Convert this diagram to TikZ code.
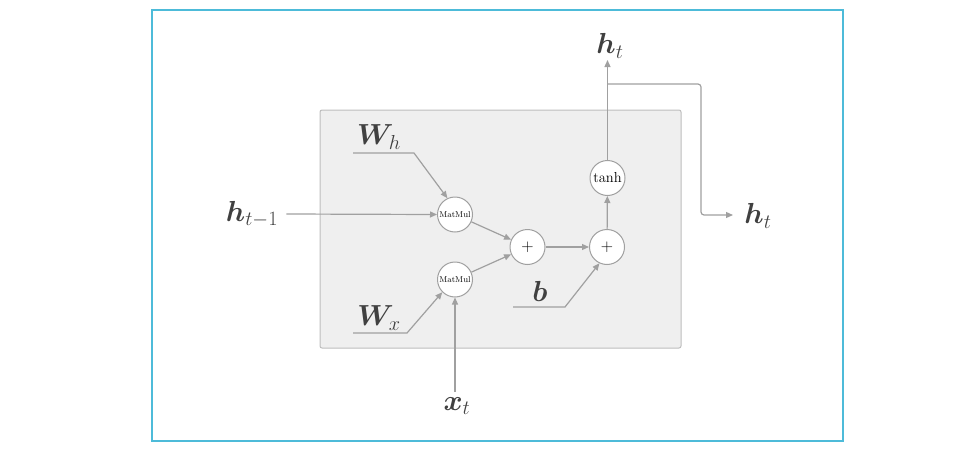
\documentclass[tikz,border=0pt]{standalone}
\usepackage{fix-cm}
\usepackage{bm}
\usetikzlibrary{arrows.meta}

\definecolor{framecol}{HTML}{4DBBD9}
\definecolor{boxfill}{HTML}{EFEFEF}
\definecolor{boxline}{HTML}{BDBDBD}
\definecolor{linecol}{HTML}{A0A0A0}
\definecolor{textcol}{HTML}{404040}

\tikzset{
  conn/.style={draw=linecol, line width=1.2pt, -{Triangle[length=7pt,width=6pt]}},
  op/.style={circle, draw=linecol, line width=1pt, fill=white, minimum size=35pt, inner sep=0pt, text=black},
  lbl/.style={text=textcol, font=\fontsize{29}{33}\selectfont, inner sep=0pt}
}

\begin{document}
\begin{tikzpicture}[x=1pt, y=-1pt]
            \useasboundingbox (0,0) rectangle (970,450);
            \draw[framecol, line width=1.2pt] (152,10) rectangle (843,441);
            \draw[boxline, fill=boxfill, line width=1pt, rounded corners=2pt] (320,110) rectangle (681,348);

            \node[op, font=\fontsize{8.5}{9}\selectfont] (mmh) at (455,214.5) {MatMul};
            \node[op, font=\fontsize{8.5}{9}\selectfont] (mmx) at (455,279.5) {MatMul};
            \node[op, font=\fontsize{17}{19}\selectfont] (add1) at (527.5,247) {$+$};
            \node[op, font=\fontsize{17}{19}\selectfont] (add2) at (607,247) {$+$};
            \node[op, font=\fontsize{14.5}{16}\selectfont] (tanh) at (607.5,178) {tanh};

            \node[lbl] (hprev) at (252,214) {$\bm{h}_{t-1}$};
            \node[lbl] (wh) at (379,137) {$\bm{W}_h$};
            \node[lbl] (wx) at (379,318) {$\bm{W}_x$};
            \node[lbl] (xt) at (457,406) {$\bm{x}_t$};
            \node[lbl] (bias) at (540,291) {$\bm{b}$};
            \node[lbl] (htop) at (610,46) {$\bm{h}_t$};
            \node[lbl] (hright) at (758,216) {$\bm{h}_t$};

            \coordinate (whline) at (353,153);
            \coordinate (wxline) at (353,333);
            \coordinate (bline) at (513,307);
            \coordinate (split) at (607.5,84);
            \coordinate (hin) at (733,215);

            \draw[conn] (hprev.east) ++(8,0) -- (mmh.west);
            \draw[conn] (whline) -- ++(61,0) -- (mmh.115);
            \draw[conn] (wxline) -- ++(54,0) -- (mmx.225);
            \draw[conn] (mmx.south |- xt.north) ++(0,-5) -- (mmx.south);
            \draw[conn] (mmh) -- (add1);
            \draw[conn] (mmx) -- (add1);
            \draw[conn] (add1) -- (add2);
            \draw[conn] (bline) -- ++(52,0) -- (add2.245);
            \draw[conn] (add2) -- (tanh);
            \draw[conn] (tanh.north) -- (tanh.north |- 0,60);
            \draw[conn, rounded corners=3pt] (split) -- (701,84) -- (701,215) -- (hin);
\end{tikzpicture}
\end{document}
